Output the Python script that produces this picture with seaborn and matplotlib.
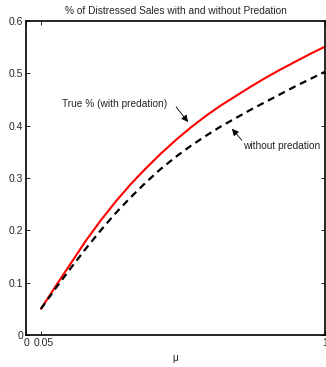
import matplotlib
matplotlib.use("Agg")
import matplotlib.pyplot as plt
import matplotlib.transforms as mtransforms
import seaborn as sns
import pandas as pd

# Share of distressed sales as a function of mu
mu = [0.05, 0.10, 0.15, 0.20, 0.25, 0.30, 0.35, 0.40, 0.45, 0.50,
      0.55, 0.60, 0.65, 0.70, 0.75, 0.80, 0.85, 0.90, 0.95, 1.00]
with_predation = [0.050, 0.094, 0.137, 0.180, 0.219, 0.255, 0.288, 0.318, 0.346, 0.372,
                  0.396, 0.418, 0.438, 0.456, 0.474, 0.491, 0.507, 0.522, 0.537, 0.551]
without_predation = [0.050, 0.090, 0.128, 0.165, 0.200, 0.233, 0.263, 0.291, 0.317, 0.340,
                     0.361, 0.380, 0.398, 0.414, 0.430, 0.445, 0.460, 0.475, 0.489, 0.503]

x_ticks = [0, 0.05, 1]
x_tick_labels = ["0", "0.05", "1"]
y_ticks = [0, 0.1, 0.2, 0.3, 0.4, 0.5, 0.6]
y_tick_labels = ["0", "0.1", "0.2", "0.3", "0.4", "0.5", "0.6"]

sns.set_style("ticks")
plt.rcParams["font.family"] = ["Liberation Sans", "DejaVu Sans"]
plt.rcParams["xtick.direction"] = "in"
plt.rcParams["ytick.direction"] = "in"

df = pd.DataFrame({"mu": mu, "with": with_predation, "without": without_predation})

fig = plt.figure(figsize=(3.26, 3.67), dpi=100)
ax = fig.add_axes([26 / 326, 32 / 367, 299 / 326, 314 / 367])

sns.lineplot(data=df, x="mu", y="with", ax=ax, color="#ff0000", linewidth=1.5)
sns.lineplot(data=df, x="mu", y="without", ax=ax, color="black", linewidth=1.6,
             linestyle=(0, (3.2, 2.2)))

ax.set_xlim(0, 1)
ax.set_ylim(0, 0.6)
ax.set_xticks(x_ticks)
ax.set_xticklabels(x_tick_labels)
ax.set_yticks(y_ticks)
ax.set_yticklabels(y_tick_labels)
ax.tick_params(axis="both", labelsize=7.5, length=3, width=0.6, color="black",
               top=True, right=True, pad=2)
for side in ax.spines.values():
    side.set_visible(True)
    side.set_linewidth(1.2)
    side.set_color("black")

# keep the "0" and "0.05" labels from running together
nudge = mtransforms.ScaledTranslation(2.5 / 100, 0, fig.dpi_scale_trans)
lbl = ax.get_xticklabels()[1]
lbl.set_transform(lbl.get_transform() + nudge)

ax.set_xlabel("\u03bc", fontsize=7.3, labelpad=4)
ax.set_ylabel("")
ax.set_title("% of Distressed Sales with and without Predation", fontsize=7.3, pad=5)

# Labels and their pointer arrows
ax.text(0.12, 0.441, "True % (with predation)", fontsize=7.3, va="center", ha="left")
ax.annotate("", xy=(0.542, 0.407), xytext=(0.502, 0.436),
            arrowprops=dict(arrowstyle="-|>", color="black", lw=0.6,
                            mutation_scale=10, shrinkA=0, shrinkB=0))
ax.text(0.726, 0.361, "without predation", fontsize=7.3, va="center", ha="left")
ax.annotate("", xy=(0.689, 0.394), xytext=(0.722, 0.372),
            arrowprops=dict(arrowstyle="-|>", color="black", lw=0.6,
                            mutation_scale=10, shrinkA=0, shrinkB=0))

fig.savefig("out.png", dpi=100)
